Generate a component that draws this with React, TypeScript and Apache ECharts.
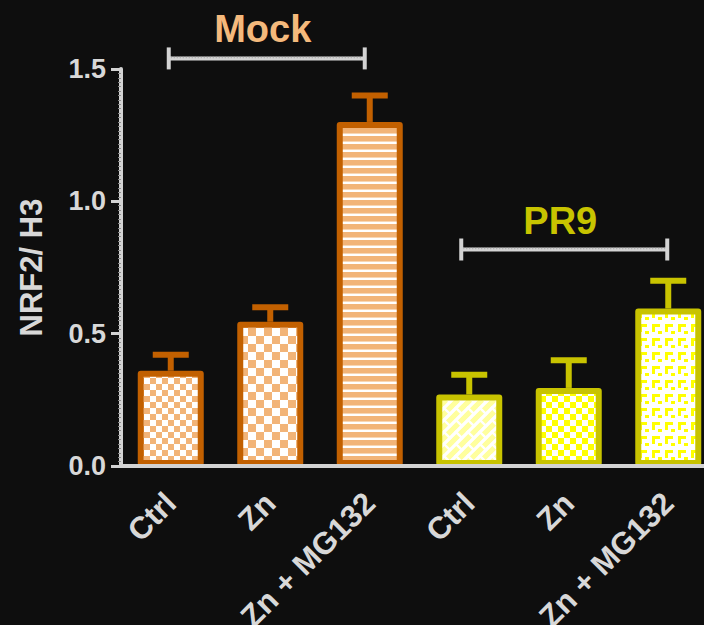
import React, { useEffect, useRef } from "react";
import * as echarts from "echarts";

// ---- data ----
const categories = ["Ctrl", "Zn", "Zn + MG132", "Ctrl", "Zn", "Zn + MG132"];
const groupOfBar = ["Mock", "Mock", "Mock", "PR9", "PR9", "PR9"];
const meanValues = [0.36, 0.545, 1.3, 0.27, 0.295, 0.595];
const semValues = [0.06, 0.055, 0.1, 0.075, 0.105, 0.105];
const yTickValues = [0, 0.5, 1.0, 1.5];
const groupNames = ["Mock", "PR9"];
const groupSpans = [
  [0, 2],
  [3, 5],
];
const bracketLevels = [1.54, 0.818];

// ---- styling ----
const FONT = '"Liberation Sans", Arial, Helvetica, sans-serif';
const AXIS_COLOR = "#d3d3d3";
const TEXT_COLOR = "#d8d8d8";
const BORDER: Record<string, string> = { Mock: "#c26000", PR9: "#c8c300" };
const TITLE: Record<string, string> = { Mock: "#f4b97c", PR9: "#c8c400" };
const bracketInsets = [
  [-2, -5],
  [-8, -1],
];

type Draw = (ctx: CanvasRenderingContext2D, w: number, h: number) => void;

function makePattern(w: number, h: number, draw: Draw) {
  const c = document.createElement("canvas");
  c.width = w;
  c.height = h;
  const ctx = c.getContext("2d")!;
  draw(ctx, w, h);
  return {
    image: c.toDataURL(),
    repeat: "repeat" as const,
    imageWidth: w,
    imageHeight: h,
  };
}

function checker(size: number, a: string, b: string) {
  return makePattern(size * 2, size * 2, (ctx) => {
    ctx.fillStyle = b;
    ctx.fillRect(0, 0, size * 2, size * 2);
    ctx.fillStyle = a;
    ctx.fillRect(0, 0, size, size);
    ctx.fillRect(size, size, size, size);
  });
}

function stripes() {
  return makePattern(4, 8, (ctx) => {
    ctx.fillStyle = "#f2b478";
    ctx.fillRect(0, 0, 4, 8);
    ctx.fillStyle = "#f8d6b4";
    ctx.fillRect(0, 5, 4, 1);
    ctx.fillStyle = "#ffffff";
    ctx.fillRect(0, 6, 4, 2);
  });
}

function bricks() {
  const T = 24;
  return makePattern(T, T, (ctx) => {
    ctx.fillStyle = "#ffff9e";
    ctx.fillRect(0, 0, T, T);
    ctx.strokeStyle = "#ffffff";
    ctx.lineWidth = 2.4;
    ctx.lineCap = "square";
    const segs: number[][] = [];
    // "/" rails
    for (let u = -24; u <= 72; u += 12) segs.push([u, 0, u - 48, 48]);
    // "\" connectors, staggered
    segs.push([0, 0, 6, 6], [12, 0, 18, 6], [0, 12, 6, 18], [12, 12, 18, 18]);
    for (const [x1, y1, x2, y2] of segs) {
      for (const dx of [-T, 0, T]) {
        for (const dy of [-T, 0, T]) {
          ctx.beginPath();
          ctx.moveTo(x1 + dx, y1 + dy);
          ctx.lineTo(x2 + dx, y2 + dy);
          ctx.stroke();
        }
      }
    }
  });
}

function hooks() {
  return makePattern(13, 14, (ctx) => {
    ctx.fillStyle = "#ffffff";
    ctx.fillRect(0, 0, 13, 14);
    ctx.fillStyle = "#ffff00";
    ctx.fillRect(2, 2, 8, 3);
    ctx.fillRect(2, 2, 3, 8);
    ctx.fillRect(8, 9, 4, 3);
  });
}

export default function App() {
  const ref = useRef<HTMLDivElement>(null);

  useEffect(() => {
    const el = ref.current!;
    const chart = echarts.init(el, null, { renderer: "svg", width: 704, height: 625 });

    const fills = [
      checker(6, "#f2b478", "#ffffff"),
      checker(8, "#f2b478", "#ffffff"),
      stripes(),
      bricks(),
      checker(6, "#ffff00", "#ffffff"),
      hooks(),
    ];

    const option: any = {
      animation: false,
      backgroundColor: "#0e0e0e",
      grid: {
        left: 121,
        top: 69,
        width: 597,
        height: 397,
        containLabel: false,
        outerBoundsMode: "none",
      },
      xAxis: {
        type: "category",
        data: categories,
        z: 5,
        axisLine: { lineStyle: { color: AXIS_COLOR, width: 4 } },
        axisTick: {
          alignWithLabel: true,
          length: 10,
          lineStyle: { color: AXIS_COLOR, width: 3 },
        },
        axisLabel: {
          interval: 0,
          rotate: 45,
          margin: 32,
          color: TEXT_COLOR,
          fontSize: 31,
          fontWeight: "bold",
          fontFamily: FONT,
        },
      },
      yAxis: {
        type: "value",
        min: yTickValues[0],
        max: yTickValues[yTickValues.length - 1],
        interval: yTickValues[1] - yTickValues[0],
        name: "NRF2/ H3",
        nameLocation: "middle",
        nameRotate: 90,
        nameGap: 74,
        nameTextStyle: {
          color: TEXT_COLOR,
          fontSize: 31,
          fontWeight: "bold",
          fontFamily: FONT,
        },
        z: 5,
        splitLine: { show: false },
        axisLine: { show: true, lineStyle: { color: AXIS_COLOR, width: 4 } },
        axisTick: { show: true, length: 10, lineStyle: { color: AXIS_COLOR, width: 3 } },
        minorTick: {
          show: true,
          splitNumber: 30,
          length: 3,
          lineStyle: { color: "#8e8e8e", width: 1 },
        },
        axisLabel: {
          margin: 15,
          color: TEXT_COLOR,
          fontSize: 27,
          fontWeight: "bold",
          fontFamily: FONT,
          formatter: (v: number) => v.toFixed(1),
        },
      },
      series: [
        {
          type: "custom",
          z: 1,
          encode: { x: 0, y: [1, 2] },
          data: meanValues.map((m, i) => [i, m, m + semValues[i]]),
          renderItem: (params: any, api: any) => {
            const i = api.value(0);
            const base = api.coord([i, api.value(1)]);
            const top = api.coord([i, api.value(2)]);
            const color = BORDER[groupOfBar[i]];
            return {
              type: "group",
              children: [
                {
                  type: "line",
                  shape: { x1: base[0], y1: base[1], x2: top[0], y2: top[1] },
                  style: { stroke: color, lineWidth: 6 },
                },
                {
                  type: "line",
                  shape: { x1: top[0] - 18, y1: top[1], x2: top[0] + 18, y2: top[1] },
                  style: { stroke: color, lineWidth: 6 },
                },
              ],
            };
          },
        },
        {
          type: "bar",
          z: 2,
          barWidth: 66,
          emphasis: { disabled: true },
          data: meanValues.map((v, i) => ({
            value: v,
            itemStyle: {
              color: fills[i],
              borderColor: BORDER[groupOfBar[i]],
              borderWidth: 6,
              borderJoin: "round",
            },
          })),
        },
      ],
    };

    chart.setOption(option);

    // group brackets with titles
    const elements: any[] = [];
    groupNames.forEach((name, g) => {
      const [a, b] = groupSpans[g];
      const x1 = (chart.convertToPixel({ xAxisIndex: 0 }, a) as number) + bracketInsets[g][0];
      const x2 = (chart.convertToPixel({ xAxisIndex: 0 }, b) as number) + bracketInsets[g][1];
      const y = chart.convertToPixel({ yAxisIndex: 0 }, bracketLevels[g]) as number;
      elements.push(
        {
          type: "line",
          shape: { x1, y1: y, x2, y2: y },
          style: { stroke: AXIS_COLOR, lineWidth: 4 },
        },
        {
          type: "line",
          shape: { x1: x1 + 2, y1: y - 1, x2: x2 - 2, y2: y - 1 },
          style: { stroke: "#a9a9a9", lineWidth: 1.5, lineDash: [1, 2] },
        },
        {
          type: "line",
          shape: { x1, y1: y - 11, x2: x1, y2: y + 11 },
          style: { stroke: AXIS_COLOR, lineWidth: 4 },
        },
        {
          type: "line",
          shape: { x1: x2, y1: y - 11, x2: x2, y2: y + 11 },
          style: { stroke: AXIS_COLOR, lineWidth: 4 },
        },
        {
          type: "text",
          x: (x1 + x2) / 2 - 4,
          y: y - 29,
          style: {
            text: name,
            fill: TITLE[name],
            fontSize: 38,
            fontWeight: "bold",
            fontFamily: FONT,
            align: "center",
            verticalAlign: "middle",
          },
        }
      );
    });
    chart.setOption({ graphic: { elements } });

    return () => chart.dispose();
  }, []);

  return (
    <div
      ref={ref}
      style={{
        position: "absolute",
        left: 0,
        top: 0,
        width: 704,
        height: 625,
        background: "#0e0e0e",
      }}
    />
  );
}
